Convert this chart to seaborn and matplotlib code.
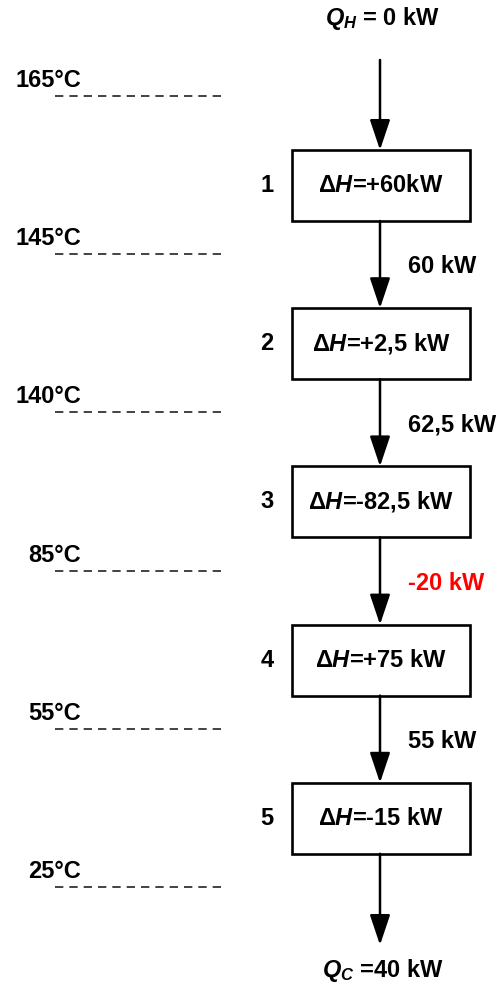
import matplotlib
matplotlib.use("Agg")
import matplotlib.pyplot as plt
from matplotlib.patches import Rectangle
import seaborn as sns

# data
temps = ["165°C", "145°C", "140°C", "85°C", "55°C", "25°C"]
intervals = ["1", "2", "3", "4", "5"]
delta_h = ["+60kW", "+2,5 kW", "-82,5 kW", "+75 kW", "-15 kW"]
flows = ["60 kW", "62,5 kW", "-20 kW", "55 kW"]
flow_colors = ["black", "black", "red", "black"]
q_hot = "0 kW"
q_cold = "40 kW"

sns.set_theme(style="white")
plt.rcParams["font.family"] = ["Liberation Sans", "DejaVu Sans"]
plt.rcParams["font.weight"] = "bold"
plt.rcParams["text.color"] = "black"
plt.rcParams["mathtext.fontset"] = "custom"
plt.rcParams["mathtext.rm"] = "Liberation Sans:bold"
plt.rcParams["mathtext.it"] = "Liberation Sans:italic:bold"
plt.rcParams["mathtext.bf"] = "Liberation Sans:bold"

fig = plt.figure(figsize=(5.02, 9.86), dpi=100)
ax = fig.add_axes([0, 0, 1, 1])
ax.set_xlim(0, 502)
ax.set_ylim(986, 0)
ax.axis("off")

fs = 17
step = 158.2
line_y0 = 96
box_y0 = 150
box_h = 71
box_x0, box_x1 = 292, 470
xc = 380

def arrow(y0, y1):
    ax.annotate("", xy=(xc, y1), xytext=(xc, y0),
                arrowprops=dict(arrowstyle="-|>,head_length=1.55,head_width=0.52",
                                color="black", lw=1.8, shrinkA=0, shrinkB=0))

# temperature lines
for i, t in enumerate(temps):
    y = line_y0 + step * i
    ax.plot([55, 221], [y, y], ls=(0, (5.0, 3.6)), color="#222222", lw=1.2)
    ax.text(81, y - 9, t, ha="right", va="baseline", fontsize=fs)

# boxes
for i, (n, dh) in enumerate(zip(intervals, delta_h)):
    top = box_y0 + step * i
    ax.add_patch(Rectangle((box_x0, top), box_x1 - box_x0, box_h, fill=False,
                           ec="black", lw=1.9))
    ax.text((box_x0 + box_x1) / 2, top + box_h / 2, r"$\mathit{\Delta H}$=" + dh,
            ha="center", va="center", fontsize=fs)
    ax.text(267, top + box_h / 2, n, ha="center", va="center", fontsize=fs)

# arrows
arrow(60, box_y0)
for i, (f, c) in enumerate(zip(flows, flow_colors)):
    top = box_y0 + step * i + box_h
    bot = box_y0 + step * (i + 1)
    arrow(top, bot)
    ax.text(408, (top + bot) / 2 + 2, f, ha="left", va="center", fontsize=fs,
            color=c)
arrow(box_y0 + step * 4 + box_h, 945)

ax.text(383, 18, r"$Q_H$ = " + q_hot, ha="center", va="center", fontsize=fs)
ax.text(383, 970, r"$Q_C$ =" + q_cold, ha="center", va="center", fontsize=fs)

fig.savefig("out.png", dpi=100)
